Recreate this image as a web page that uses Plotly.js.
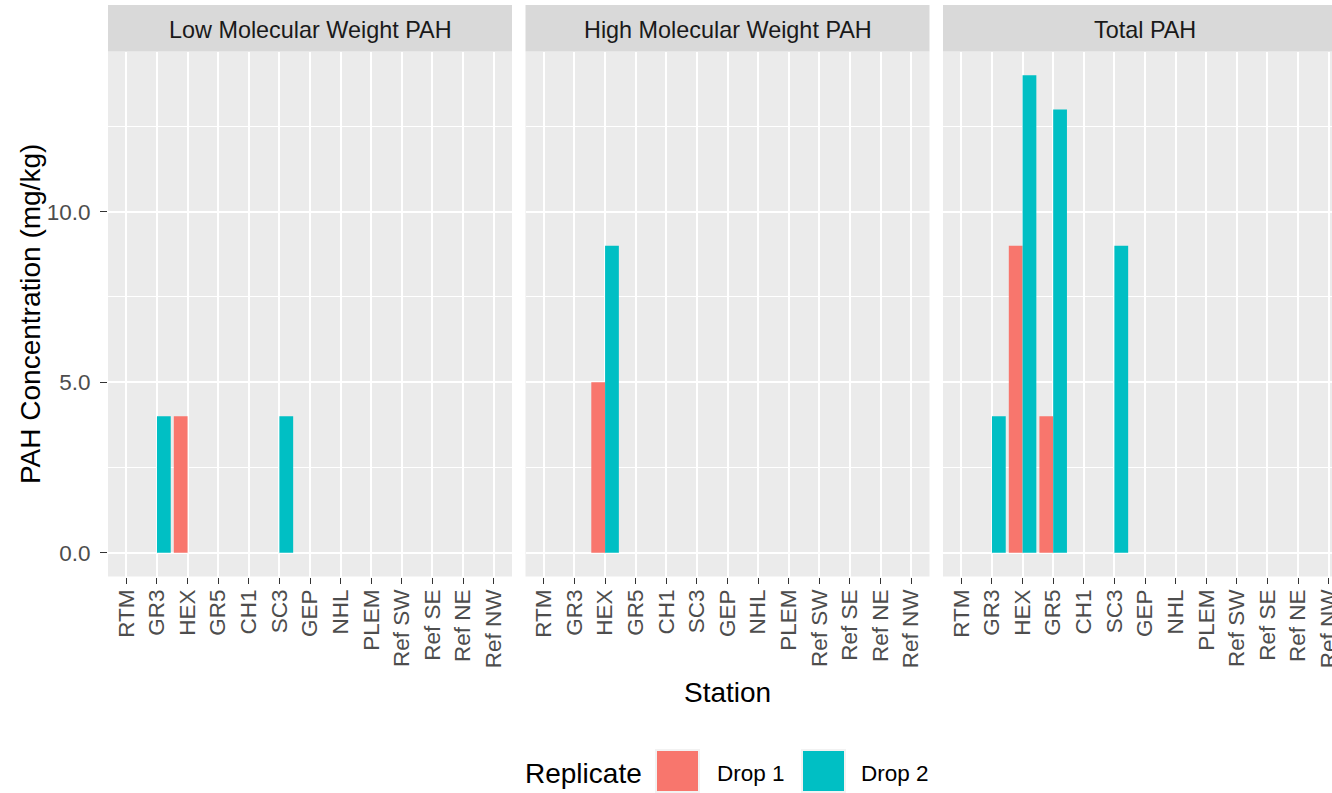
<!DOCTYPE html>
<html>
<head>
<meta charset="utf-8">
<script src="https://cdn.plot.ly/plotly-3.0.1.min.js"></script>
<style>
html, body { margin:0; padding:0; overflow:hidden; background:#fff; }
#chart { width:1360px; height:793px; }
</style>
</head>
<body>
<div id="chart"></div>
<script>
// ---- data ----
const stations = ['RTM','GR3','HEX','GR5','CH1','SC3','GEP','NHL','PLEM','Ref SW','Ref SE','Ref NE','Ref NW'];
const facets = ['Low Molecular Weight PAH','High Molecular Weight PAH','Total PAH'];
const replicates = ['Drop 1','Drop 2'];
const lmwDrop1 = [null,null,4,null,null,null,null,null,null,null,null,null,null];
const lmwDrop2 = [null,4,null,null,null,4,null,null,null,null,null,null,null];
const hmwDrop1 = [null,null,5,null,null,null,null,null,null,null,null,null,null];
const hmwDrop2 = [null,null,9,null,null,null,null,null,null,null,null,null,null];
const totDrop1 = [null,null,9,4,null,null,null,null,null,null,null,null,null];
const totDrop2 = [null,4,14,13,null,9,null,null,null,null,null,null,null];
const yTicks = [0,5,10];

// ---- style ----
const W = 1360, H = 793;
const colors = ['#F8766D','#00BFC4'];
const font = 'Liberation Sans, Arial, sans-serif';
const px = x => x / W;
const py = y => 1 - y / H;
const panels = [[108,512],[525.5,929.5],[943,1347]];
const panelTop = 51.5, panelBot = 576.5, stripTop = 5;

const seriesByFacet = [[lmwDrop1,lmwDrop2],[hmwDrop1,hmwDrop2],[totDrop1,totDrop2]];
const traces = [];
seriesByFacet.forEach((pair, i) => {
  pair.forEach((vals, r) => {
    traces.push({
      type:'bar', x: stations, y: vals, name: replicates[r],
      marker:{color: colors[r], line:{width:0}},
      xaxis: i === 0 ? 'x' : 'x' + (i+1),
      yaxis: i === 0 ? 'y' : 'y' + (i+1),
      showlegend:false, hoverinfo:'x+y+name'
    });
  });
});

const layout = {
  width: W, height: H,
  margin:{l:0,r:0,t:0,b:0},
  paper_bgcolor:'#ffffff', plot_bgcolor:'#EBEBEB',
  barmode:'group', bargap:0.1, bargroupgap:0,
  font:{family:font, color:'#4D4D4D', size:22.5},
  shapes:[], annotations:[]
};

panels.forEach((p, i) => {
  const xk = i === 0 ? 'xaxis' : 'xaxis' + (i+1);
  const yk = i === 0 ? 'yaxis' : 'yaxis' + (i+1);
  layout[xk] = {
    domain:[px(p[0]), px(p[1])],
    anchor: i === 0 ? 'y' : 'y' + (i+1),
    type:'category', categoryorder:'array', categoryarray: stations,
    range:[-0.6, 12.6],
    showgrid:true, gridcolor:'#FFFFFF', gridwidth:2,
    zeroline:false, showline:false,
    ticks:'outside', ticklen:6, tickwidth:1.1, tickcolor:'#333333',
    tickangle:-90, ticklabelstandoff:-3,
    tickfont:{family:font, size:22.5, color:'#4D4D4D'},
    fixedrange:true
  };
  layout[yk] = {
    domain:[py(panelBot), py(panelTop)],
    anchor: i === 0 ? 'x' : 'x' + (i+1),
    range:[-0.7, 14.7],
    tickvals: yTicks, tickformat:'.1f',
    showgrid:true, gridcolor:'#FFFFFF', gridwidth:2,
    minor:{dtick:2.5, tick0:0, showgrid:true, gridcolor:'#FFFFFF', gridwidth:1, ticks:''},
    zeroline:false, showline:false,
    ticks: i === 0 ? 'outside' : '', ticklen:7, tickwidth:1.1, tickcolor:'#333333',
    showticklabels: i === 0, ticklabelstandoff:5,
    tickfont:{family:font, size:22.5, color:'#4D4D4D'},
    fixedrange:true
  };
  if (i > 0) layout[yk].matches = 'y';
  // strip
  layout.shapes.push({type:'rect', xref:'paper', yref:'paper', x0:px(p[0]), x1:px(p[1]),
    y0:py(panelTop), y1:py(stripTop), fillcolor:'#D9D9D9', line:{width:0}, layer:'below'});
  layout.annotations.push({xref:'paper', yref:'paper', x:px((p[0]+p[1])/2), y:py(30),
    text:facets[i], showarrow:false, xanchor:'center', yanchor:'middle',
    font:{family:font, size:23.4, color:'#1A1A1A'}});
});

// axis titles
layout.annotations.push({xref:'paper', yref:'paper', x:px(727.5), y:py(692), text:'Station',
  showarrow:false, xanchor:'center', yanchor:'middle', font:{family:font, size:28, color:'#000000'}});
layout.annotations.push({xref:'paper', yref:'paper', x:px(30), y:py((panelTop+panelBot)/2),
  text:'PAH Concentration (mg/kg)', textangle:-90, showarrow:false, xanchor:'center', yanchor:'middle',
  font:{family:font, size:28, color:'#000000'}});

// legend (drawn)
layout.annotations.push({xref:'paper', yref:'paper', x:px(523), y:py(773), text:'Replicate',
  showarrow:false, xanchor:'left', yanchor:'middle', font:{family:font, size:28, color:'#000000'}});
const keyX = [656, 802], labX = [715, 859];
replicates.forEach((r, k) => {
  layout.shapes.push({type:'rect', xref:'paper', yref:'paper', x0:px(keyX[k]), x1:px(keyX[k]+43),
    y0:py(792), y1:py(750), fillcolor:colors[k], line:{color:'#F2F2F2', width:2}});
  layout.annotations.push({xref:'paper', yref:'paper', x:px(labX[k]), y:py(773), text:r,
    showarrow:false, xanchor:'left', yanchor:'middle', font:{family:font, size:22.5, color:'#000000'}});
});

Plotly.newPlot('chart', traces, layout, {displayModeBar:false, responsive:false});
</script>
</body>
</html>
